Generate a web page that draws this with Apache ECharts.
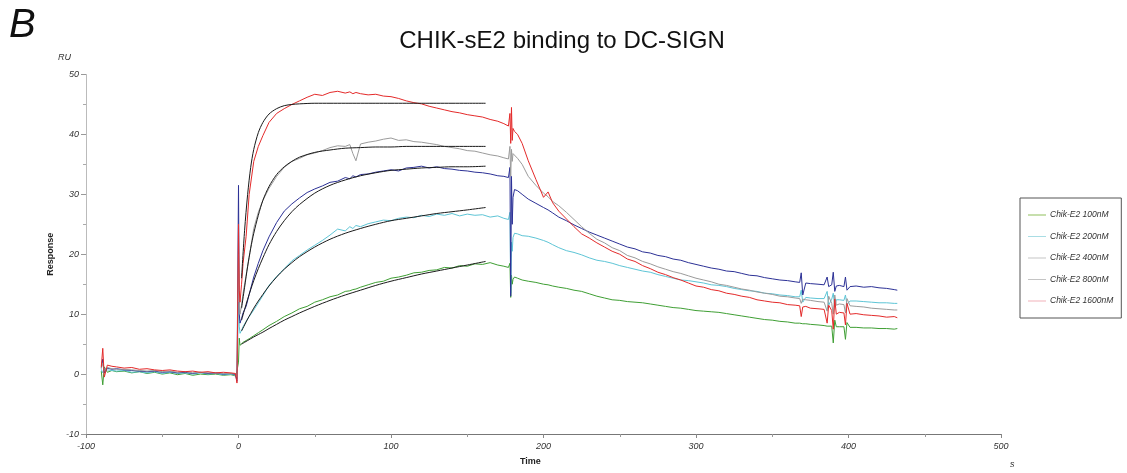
<!DOCTYPE html>
<html>
<head>
<meta charset="utf-8">
<script src="https://cdn.jsdelivr.net/npm/echarts@6/dist/echarts.min.js"></script>
<style>
  html, body { margin: 0; padding: 0; background: #fff; }
  #chart { width: 1127px; height: 473px; }
</style>
</head>
<body>
<div id="chart"></div>
<script>
// sample times (s), shared by all five sensorgrams
var times = [
  -90, -89, -88, -86, -83, -80, -75, -70, -65, -60, -55, -50, -45, -40, -35, -30, -25, -20, -15, -10, -5, -2, -1, 0,
  0.5, 1, 2, 3, 5, 7, 10, 13, 16, 20, 25, 30, 35, 40, 45, 50, 55, 60, 65, 70, 73, 75, 77, 80, 85, 90, 95, 100,
  105, 110, 115, 120, 125, 130, 135, 140, 145, 150, 155, 160, 165, 170, 174, 177,
  178, 178.5, 179, 179.5, 180, 181, 183, 186,
  190, 195, 200, 203, 206, 210, 215, 220, 225, 230, 235, 240, 245, 250, 255, 260, 265, 270, 275, 280, 285, 290,
  295, 300, 305, 310, 315, 320, 325, 330, 335, 340, 345, 350, 355, 360, 365, 368, 369, 370, 372, 375, 380, 384,
  386, 387, 389, 390, 391, 392, 394, 397, 398, 399, 401, 405, 410, 415, 420, 425, 430, 432
];

var c100 = [
  0.5, -1.8, 1.2, 0.3, 0.6, 0.4, 0.5, 0.2, 0.4, 0.1, 0.3, 0.0, 0.2, -0.1, 0.1, -0.2, 0.0, -0.1, 0.0, -0.2, -0.1, -0.3, 0.5, 2.0,
  6.0, 4.8, 5.0, 5.3, 5.6, 5.9, 6.4, 6.9, 7.4, 8.1, 8.8, 9.6, 10.2, 10.9, 11.3, 12.0, 12.4, 12.9, 13.2, 13.8, 13.9, 14.1, 14.2, 14.5, 14.9, 15.3, 15.5, 16.0,
  16.2, 16.5, 16.9, 17.0, 17.3, 17.4, 17.8, 17.7, 18.1, 18.0, 18.4, 18.3, 18.6, 18.2, 18.0, 17.8,
  18.5, 12.8, 16.5, 15.0, 15.8, 16.2, 16.0, 15.7,
  15.5, 15.3, 15.0, 14.9, 14.7, 14.5, 14.3, 14.0, 13.8, 13.4, 13.0, 12.7, 12.4, 12.3, 12.1, 12.0, 11.9, 11.7, 11.5, 11.3, 11.1, 11.0,
  10.8, 10.6, 10.5, 10.4, 10.3, 10.1, 9.9, 9.7, 9.5, 9.3, 9.1, 9.0, 8.8, 8.7, 8.5, 8.5, 8.4, 8.4, 8.4, 8.3, 8.2, 8.1,
  8.0, 8.1, 8.0, 5.2, 9.0, 7.9, 7.9, 7.9, 5.8, 8.6, 7.8, 7.8, 7.7, 7.7, 7.6, 7.6, 7.5, 7.6
];

var c200 = [
  0.8, 0.2, 0.9, 0.7, 0.6, 0.5, 0.6, 0.3, 0.4, 0.2, 0.4, 0.1, 0.3, 0.1, 0.2, 0.0, 0.2, 0.0, 0.1, -0.1, 0.0, -0.2, -0.8, 12,
  8.0, 6.8, 7.3, 7.9, 8.8, 9.6, 10.7, 11.9, 13.1, 14.8, 16.3, 17.6, 18.9, 19.8, 20.7, 21.5, 22.3, 23.2, 24.2, 23.9, 24.6, 24.3, 24.8, 24.6, 25.1, 25.4, 25.7, 25.6,
  26.0, 26.2, 26.1, 26.5, 26.3, 26.7, 26.5, 26.8, 26.4, 26.7, 26.5, 26.6, 26.2, 26.4, 26.0, 25.8,
  27.0, 13.5, 22.0, 20.5, 22.8, 23.5, 23.4, 23.1,
  23.0, 22.7, 22.3, 22.0, 21.6, 21.1, 20.6, 20.3, 19.9, 19.4, 19.0, 18.8, 18.5, 18.1, 17.8, 17.5, 17.2, 17.0, 16.6, 16.3, 16.0, 15.7,
  15.6, 15.4, 15.2, 14.9, 14.8, 14.6, 14.3, 14.1, 13.9, 13.8, 13.5, 13.4, 13.2, 13.1, 12.9, 12.9, 14.0, 12.0, 12.8, 12.7, 12.6, 12.6,
  13.8, 11.5, 12.5, 13.5, 11.2, 12.4, 12.4, 12.3, 13.2, 11.6, 12.2, 12.2, 12.1, 12.0, 11.9, 11.9, 11.8, 11.8
];

var c400 = [
  1.0, 2.5, 0.2, 1.0, 0.8, 0.9, 0.7, 0.6, 0.5, 0.4, 0.5, 0.3, 0.4, 0.2, 0.3, 0.1, 0.3, 0.1, 0.2, 0.0, 0.1, -0.1, -1.2, 31.5,
  10.0, 8.5, 9.3, 10.2, 11.3, 13.3, 16.2, 18.5, 20.6, 22.9, 25.3, 27.2, 28.4, 29.4, 30.3, 30.9, 31.4, 32.0, 32.2, 32.8, 32.6, 33.1, 32.9, 33.3, 33.4, 33.7, 33.9, 34.1,
  33.9, 34.4, 34.5, 34.7, 34.4, 34.6, 34.3, 34.2, 34.0, 33.9, 33.7, 33.6, 33.4, 33.1, 33.0, 32.8,
  34.5, 13.0, 33.0, 25.0, 29.5, 30.8, 30.6, 30.0,
  29.2, 28.5, 27.8, 27.4, 26.9, 26.2, 25.6, 24.9, 24.3, 23.7, 23.2, 22.7, 22.2, 21.7, 21.2, 20.9, 20.4, 20.2, 19.8, 19.6, 19.2, 19.0,
  18.6, 18.3, 18.0, 17.7, 17.5, 17.2, 17.1, 16.8, 16.5, 16.4, 16.1, 15.9, 15.7, 15.6, 15.4, 15.3, 16.9, 13.2, 15.2, 15.1, 15.0, 14.9,
  16.2, 14.6, 14.9, 17.0, 13.8, 14.7, 14.8, 14.6, 16.2, 14.0, 14.6, 14.7, 14.5, 14.6, 14.4, 14.3, 14.1, 14.0
];

var c800 = [
  0.9, 1.8, 0.5, 1.1, 0.9, 0.8, 0.8, 0.7, 0.6, 0.5, 0.6, 0.4, 0.5, 0.3, 0.4, 0.2, 0.3, 0.2, 0.2, 0.1, 0.1, 0.0, -0.5, 20,
  12.0, 10.0, 11.5, 13.5, 16.5, 19.5, 24.3, 27.0, 29.0, 31.0, 33.0, 34.5, 35.5, 36.0, 36.6, 36.9, 37.3, 37.8, 38.1, 38.0, 38.3, 36.8, 35.6, 38.4, 38.7, 38.9, 39.2, 39.4,
  39.0, 39.1, 38.8, 38.7, 38.5, 38.3, 38.0, 37.8, 37.6, 37.3, 37.2, 36.9, 36.6, 36.4, 36.1, 35.9,
  38.0, 33.0, 37.5, 35.5, 36.8, 36.5, 36.0, 35.0,
  33.0, 31.5, 30.2, 29.6, 28.8, 28.1, 27.0, 25.8, 24.6, 23.5, 22.5, 21.9, 21.1, 20.6, 19.8, 19.4, 18.8, 18.4, 17.9, 17.5, 17.1, 16.8,
  16.4, 16.0, 15.7, 15.4, 15.0, 14.8, 14.5, 14.2, 14.0, 13.7, 13.5, 13.3, 13.0, 12.9, 12.7, 12.6, 11.8, 12.5, 12.4, 12.3, 12.1, 12.0,
  10.5, 13.0, 11.8, 10.0, 13.2, 11.5, 11.7, 11.6, 10.2, 12.6, 11.4, 11.3, 11.2, 11.0, 10.9, 10.8, 10.7, 10.7
];

var c1600 = [
  1.2, 4.3, -0.5, 1.5, 1.3, 1.2, 1.0, 1.1, 0.8, 0.9, 0.7, 0.6, 0.7, 0.5, 0.4, 0.5, 0.3, 0.4, 0.2, 0.3, 0.2, 0.1, -1.5, 25,
  14.0, 12.0, 15.0, 18.5, 23.0, 30.0, 35.5, 38.0, 39.8, 42.0, 43.5, 44.3, 45.0, 45.6, 46.2, 46.7, 46.5, 47.0, 47.2, 46.9, 47.1, 46.8, 47.0, 46.8, 46.6, 46.7, 46.4, 46.3,
  46.0, 45.6, 45.3, 45.1, 44.7, 44.4, 44.1, 43.8, 43.6, 43.3, 43.1, 42.9, 42.5, 42.2, 41.8, 41.4,
  43.5, 38.5, 44.5, 39.0, 41.0, 40.5, 40.0, 38.5,
  35.6, 32.5, 29.5, 30.4, 28.6, 27.2, 25.9, 24.6, 23.4, 22.7, 21.9, 21.2, 20.5, 20.0, 19.2, 18.8, 18.1, 17.6, 17.0, 16.6, 16.1, 15.7,
  15.2, 14.7, 14.5, 14.1, 13.9, 13.5, 13.3, 13.0, 12.8, 12.4, 12.2, 12.0, 11.9, 11.6, 11.5, 11.4, 9.6, 11.2, 11.3, 11.0, 10.9, 10.8,
  8.5, 11.5, 10.6, 7.5, 12.5, 10.0, 10.3, 10.2, 8.2, 11.8, 10.0, 10.1, 9.9, 9.8, 9.7, 9.5, 9.6, 9.4
];

// fitted association curves (black)
var fitTimes = [2, 4, 6, 8, 10, 13, 16, 20, 25, 30, 35, 40, 50, 60, 70, 80, 90, 100, 110, 120, 130, 140, 150, 162];
var fit100 = [5.0, 5.3, 5.6, 5.9, 6.2, 6.6, 7.0, 7.6, 8.3, 9.0, 9.6, 10.2, 11.3, 12.3, 13.2, 14.0, 14.8, 15.5, 16.1, 16.7, 17.2, 17.7, 18.2, 18.8];
var fit200 = [7.2, 8.2, 9.2, 10.1, 11.0, 12.2, 13.3, 14.7, 16.2, 17.5, 18.6, 19.6, 21.2, 22.5, 23.5, 24.3, 25.0, 25.6, 26.0, 26.4, 26.8, 27.1, 27.4, 27.8];
var fit400 = [9.0, 10.8, 12.5, 14.1, 15.6, 17.6, 19.4, 21.6, 23.8, 25.6, 27.1, 28.3, 30.2, 31.5, 32.4, 33.1, 33.6, 34.0, 34.2, 34.4, 34.5, 34.6, 34.6, 34.7];
var fit800 = [11.0, 14.5, 18.0, 21.0, 23.5, 26.5, 29.0, 31.3, 33.3, 34.6, 35.5, 36.2, 37.0, 37.4, 37.7, 37.8, 37.9, 37.9, 38.0, 38.0, 38.0, 38.0, 38.0, 38.0];
var fit1600 = [16.0, 24.0, 30.0, 34.5, 37.5, 40.3, 42.0, 43.4, 44.3, 44.8, 45.0, 45.1, 45.2, 45.2, 45.2, 45.2, 45.2, 45.2, 45.2, 45.2, 45.2, 45.2, 45.2, 45.2];

var names = ["Chik-E2 100nM", "Chik-E2 200nM", "Chik-E2 400nM", "Chik-E2 800nM", "Chik-E2 1600nM"];
var colors = ["#3f9f34", "#5ec5d6", "#2c3196", "#9b9b9b", "#e42a2a"];
var legendColors = ["#8fbf5a", "#a9dde4", "#c4c4c4", "#c4c4c4", "#f0b0b8"];

var font = "'Liberation Sans', Arial, sans-serif";

function pairs(xs, ys) {
  return xs.map(function (t, i) { return [t, ys[i]]; });
}

var chart = echarts.init(document.getElementById("chart"));

var series = [];
[c100, c200, c400, c800, c1600].forEach(function (arr, i) {
  series.push({
    name: names[i],
    type: "line",
    data: pairs(times, arr),
    showSymbol: false,
    symbol: "none",
    lineStyle: { width: 1, color: colors[i] },
    itemStyle: { color: colors[i] },
    z: 2 + i,
  });
});
[fit100, fit200, fit400, fit800, fit1600].forEach(function (arr, i) {
  series.push({
    name: "fit" + i,
    type: "line",
    data: pairs(fitTimes, arr),
    smooth: 0.3,
    showSymbol: false,
    symbol: "none",
    lineStyle: { width: 1, color: "#1a1a1a" },
    z: 10,
  });
});

var option = {
  animation: false,
  backgroundColor: "#fff",
  grid: { left: 86, right: 126, top: 74.5, bottom: 39 },
  title: {
    text: "CHIK-sE2 binding to DC-SIGN",
    left: 557,
    textAlign: "center",
    top: 24,
    textStyle: { fontFamily: font, fontSize: 24, fontWeight: "normal", color: "#111" },
  },
  legend: {
    orient: "vertical",
    left: 1020,
    top: 198,
    width: 100,
    padding: [12, 8, 12, 8],
    itemGap: 11.5,
    itemWidth: 18,
    itemHeight: 1,
    icon: "rect",
    borderColor: "#555",
    borderWidth: 1,
    selectedMode: false,
    data: names.map(function (n, i) {
      return { name: n, itemStyle: { color: legendColors[i] } };
    }),
    textStyle: { fontFamily: font, fontSize: 8.5, fontStyle: "italic", color: "#333", padding: [0, 0, 0, -1], lineHeight: 10 },
  },
  xAxis: {
    type: "value",
    min: -100,
    max: 500,
    interval: 100,
    axisLine: { onZero: false, lineStyle: { color: "#777", width: 1.2 } },
    axisTick: { show: true, length: 4, lineStyle: { color: "#888" } },
    minorTick: { show: true, splitNumber: 2, length: 3, lineStyle: { color: "#999" } },
    splitLine: { show: false },
    axisLabel: { fontFamily: font, fontSize: 9, fontStyle: "italic", color: "#333", margin: 8 },
  },
  yAxis: {
    type: "value",
    min: -10,
    max: 50,
    interval: 10,
    name: "Response",
    nameLocation: "middle",
    nameGap: 30,
    nameTextStyle: { fontFamily: font, fontSize: 9, fontWeight: "bold", color: "#222" },
    axisLine: { show: true, onZero: false, lineStyle: { color: "#bbb", width: 1 } },
    axisTick: { show: true, length: 5, lineStyle: { color: "#999" } },
    minorTick: { show: true, splitNumber: 2, length: 3, lineStyle: { color: "#aaa" } },
    splitLine: { show: false },
    axisLabel: { fontFamily: font, fontSize: 9, fontStyle: "italic", color: "#333", margin: 7 },
  },
  graphic: [
    { type: "text", left: 9, top: 6, style: { text: "B", fontFamily: font, fontSize: 40, fontStyle: "italic", fill: "#111" } },
    { type: "text", left: 58, top: 53, style: { text: "RU", fontFamily: font, fontSize: 9, fontStyle: "italic", fill: "#333" } },
    { type: "text", left: 520, top: 457, style: { text: "Time", fontFamily: font, fontSize: 9, fontWeight: "bold", fill: "#222" } },
    { type: "text", left: 1010, top: 460, style: { text: "s", fontFamily: font, fontSize: 9, fontStyle: "italic", fill: "#333" } },
  ],
  series: series,
};

chart.setOption(option);
</script>
</body>
</html>
